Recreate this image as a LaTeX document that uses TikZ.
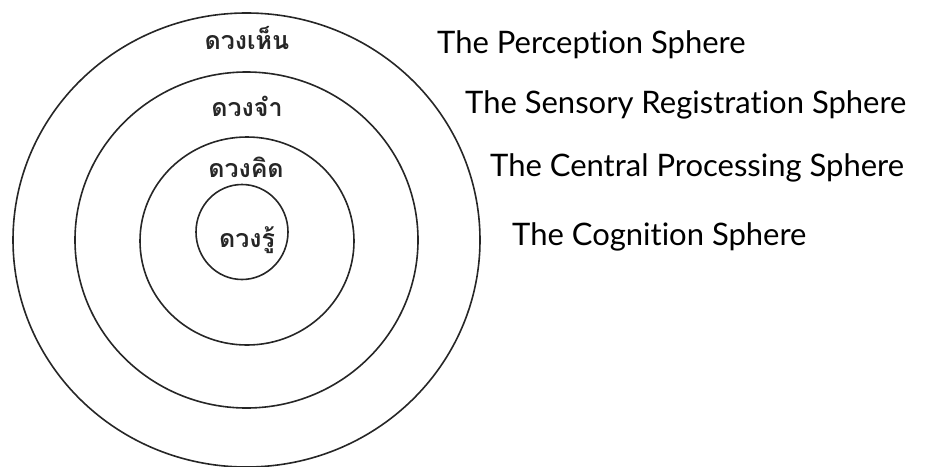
\documentclass[tikz,border=0pt]{standalone}
\usepackage{fontspec}
\setmainfont{Lato}[Ligatures=NoCommon]
\newfontfamily\thaifont[Script=Thai]{Loma}
\begin{document}
\begin{tikzpicture}[x=1pt,y=-1pt,
  ring/.style={draw=black!85,line width=1.6pt},
  thailabel/.style={font=\thaifont\bfseries\fontsize{25}{28}\selectfont,text=black!85,inner sep=0pt},
  englabel/.style={font=\fontsize{31}{34}\selectfont,anchor=west,inner sep=0pt}]
\useasboundingbox (0,0) rectangle (926,466);
\draw[ring] (246.5,240) ellipse [x radius=233.5,y radius=227];
\draw[ring] (246.5,240) ellipse [x radius=171.5,y radius=168];
\draw[ring] (247,241) ellipse [x radius=107,y radius=104];
\draw[ring] (242,232) ellipse [x radius=46,y radius=47.5];
\node[thailabel] (t1) at (247,38) {ดวงเห็น};
\node[thailabel] (t2) at (247,106) {ดวงจำ};
\node[thailabel] (t3) at (246,167) {ดวงคิด};
\node[thailabel] (t4) at (247,240) {ดวงรู้};
\node[englabel] (e1) at (437,45) {The Perception Sphere};
\node[englabel] (e2) at (465,105) {The Sensory Registration Sphere};
\node[englabel] (e3) at (490,168) {The Central Processing Sphere};
\node[englabel] (e4) at (512,237) {The Cognition Sphere};
\end{tikzpicture}
\end{document}
